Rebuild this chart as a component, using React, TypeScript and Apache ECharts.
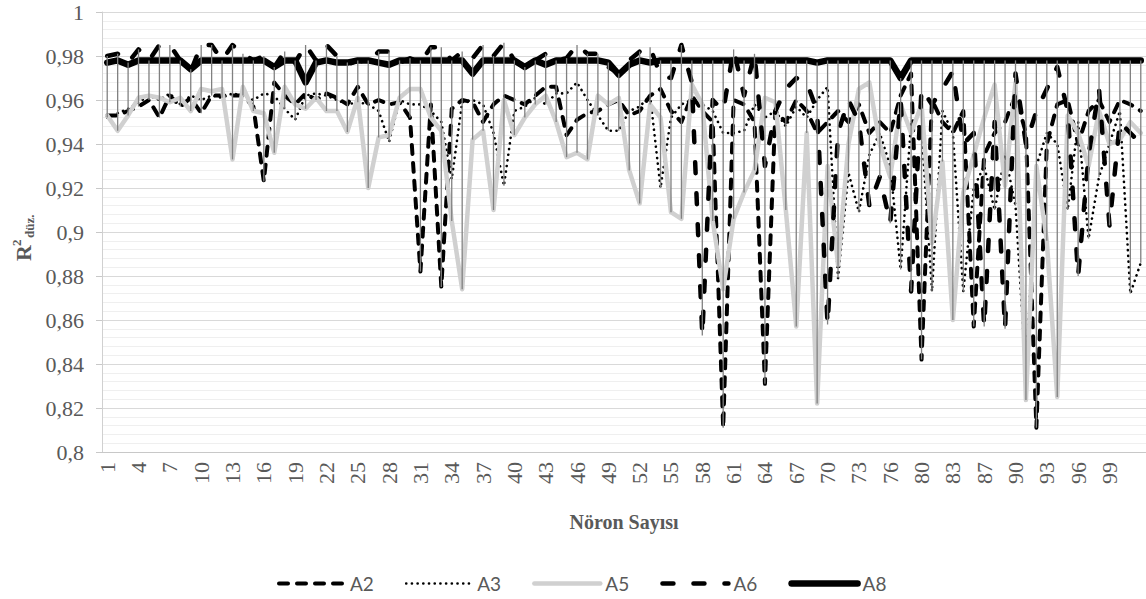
import React, { useEffect, useRef } from 'react';
import * as echarts from 'echarts';

const categories = [
  '1','2','3','4','5','6','7','8','9','10','11','12','13','14','15','16','17','18','19','20',
  '21','22','23','24','25','26','27','28','29','30','31','32','33','34','35','36','37','38','39','40',
  '41','42','43','44','45','46','47','48','49','50','51','52','53','54','55','56','57','58','59','60',
  '61','62','63','64','65','66','67','68','69','70','71','72','73','74','75','76','77','79','80','81',
  '82','83','84','85','87','88','89','90','91','92','93','94','95','96','97','98','99','100','101','102'
];

const seriesA2 = [
  0.953,0.953,0.955,0.957,0.960,0.952,0.962,0.957,0.961,0.954,
  0.962,0.962,0.962,0.962,0.957,0.923,0.968,0.962,0.958,0.963,
  0.960,0.963,0.961,0.958,0.966,0.958,0.960,0.958,0.959,0.952,
  0.882,0.958,0.875,0.956,0.960,0.959,0.950,0.958,0.962,0.960,
  0.958,0.962,0.966,0.966,0.944,0.951,0.954,0.955,0.958,0.960,
  0.953,0.955,0.962,0.965,0.955,0.950,0.962,0.955,0.950,0.811,
  0.960,0.958,0.950,0.831,0.955,0.950,0.960,0.955,0.945,0.950,
  0.955,0.950,0.958,0.945,0.950,0.945,0.962,0.972,0.842,0.960,
  0.950,0.945,0.955,0.857,0.935,0.945,0.950,0.962,0.945,0.811,
  0.940,0.958,0.960,0.940,0.955,0.960,0.950,0.960,0.958,0.955
];

const seriesA3 = [
  0.952,0.954,0.956,0.959,0.962,0.960,0.963,0.958,0.962,0.960,
  0.962,0.961,0.963,0.962,0.960,0.963,0.962,0.956,0.951,0.962,
  0.963,0.962,0.960,0.958,0.959,0.958,0.955,0.941,0.960,0.958,
  0.958,0.955,0.950,0.924,0.959,0.960,0.958,0.945,0.921,0.955,
  0.957,0.961,0.958,0.963,0.963,0.968,0.960,0.953,0.946,0.946,
  0.955,0.957,0.962,0.920,0.952,0.958,0.960,0.958,0.955,0.945,
  0.945,0.946,0.958,0.952,0.955,0.948,0.957,0.952,0.960,0.966,
  0.879,0.927,0.909,0.935,0.945,0.930,0.883,0.950,0.947,0.873,
  0.955,0.945,0.873,0.920,0.930,0.910,0.935,0.912,0.835,0.930,
  0.945,0.940,0.910,0.950,0.897,0.925,0.940,0.955,0.872,0.886
];

const seriesA5 = [
  0.953,0.946,0.953,0.961,0.962,0.961,0.959,0.961,0.955,0.965,
  0.964,0.965,0.933,0.966,0.955,0.954,0.936,0.966,0.958,0.956,
  0.961,0.955,0.955,0.9455,0.961,0.920,0.943,0.944,0.961,0.965,
  0.965,0.952,0.946,0.905,0.874,0.942,0.946,0.910,0.960,0.944,
  0.952,0.958,0.962,0.950,0.934,0.936,0.933,0.962,0.958,0.961,
  0.928,0.913,0.958,0.952,0.909,0.906,0.967,0.958,0.905,0.874,
  0.906,0.918,0.928,0.961,0.959,0.910,0.857,0.945,0.822,0.930,
  0.885,0.940,0.965,0.968,0.940,0.925,0.958,0.945,0.958,0.895,
  0.932,0.860,0.918,0.935,0.952,0.967,0.921,0.968,0.8236,0.930,
  0.896,0.825,0.953,0.945,0.930,0.955,0.940,0.942,0.950,0.945
];

const seriesA6 = [
  0.980,0.981,0.977,0.983,0.978,0.985,0.985,0.978,0.973,0.985,
  0.985,0.978,0.985,0.981,0.978,0.980,0.975,0.982,0.977,0.985,
  0.978,0.985,0.980,0.976,0.978,0.977,0.982,0.982,0.977,0.979,
  0.977,0.984,0.984,0.978,0.982,0.979,0.985,0.980,0.986,0.978,
  0.975,0.978,0.981,0.978,0.979,0.985,0.981,0.981,0.975,0.972,
  0.978,0.982,0.984,0.971,0.970,0.985,0.968,0.853,0.960,0.955,
  0.983,0.962,0.981,0.930,0.955,0.965,0.970,0.968,0.955,0.858,
  0.945,0.960,0.950,0.912,0.925,0.904,0.960,0.873,0.965,0.958,
  0.965,0.973,0.940,0.945,0.857,0.950,0.856,0.972,0.940,0.955,
  0.965,0.975,0.955,0.880,0.935,0.965,0.903,0.950,0.945,0.940
];

const seriesA8 = [
  0.977,0.978,0.976,0.978,0.978,0.978,0.978,0.978,0.974,0.978,
  0.978,0.978,0.978,0.978,0.978,0.978,0.975,0.978,0.978,0.968,
  0.977,0.978,0.977,0.977,0.978,0.978,0.977,0.976,0.978,0.978,
  0.978,0.978,0.978,0.978,0.978,0.972,0.978,0.978,0.978,0.978,
  0.975,0.978,0.976,0.978,0.978,0.978,0.978,0.978,0.977,0.9715,
  0.976,0.978,0.977,0.978,0.978,0.978,0.978,0.978,0.978,0.978,
  0.978,0.978,0.978,0.978,0.978,0.978,0.978,0.978,0.977,0.978,
  0.978,0.978,0.978,0.978,0.978,0.978,0.970,0.978,0.978,0.978,
  0.978,0.978,0.978,0.978,0.978,0.978,0.978,0.978,0.978,0.978,
  0.978,0.978,0.978,0.978,0.978,0.978,0.978,0.978,0.978,0.978
];

const seriesNames = ['A2', 'A3', 'A5', 'A6', 'A8'];
const yMin = 0.8;
const yMax = 1;
const yStep = 0.02;

export default function App() {
  const ref = useRef<HTMLDivElement>(null);

  useEffect(() => {
    const chart = echarts.init(ref.current as HTMLDivElement, null, { renderer: 'svg' });
    const serif = '"Liberation Serif", "Times New Roman", serif';
    const all = [seriesA2, seriesA3, seriesA5, seriesA6, seriesA8];
    const hiLo = categories.map((_, i) => {
      const vals = all.map((s) => s[i]);
      return [i, Math.min(...vals), Math.max(...vals)];
    });

    const lineSeries = (name: string, data: number[], lineStyle: any, z: number) => ({
      type: 'line',
      name,
      data,
      symbol: 'none',
      showSymbol: false,
      silent: true,
      z,
      lineStyle,
      itemStyle: { color: lineStyle.color },
      emphasis: { disabled: true },
    });

    chart.setOption({
      animation: false,
      backgroundColor: '#ffffff',
      grid: { left: 102, top: 12, width: 1050, height: 440, containLabel: false },
      xAxis: {
        type: 'category',
        data: categories,
        boundaryGap: true,
        axisLine: { show: true, lineStyle: { color: '#c8c8c8', width: 1 } },
        axisTick: { show: false },
        axisLabel: {
          interval: (i: number) => i % 3 === 0 && i < 97,
          rotate: 90,
          margin: 10,
          fontFamily: serif,
          fontSize: 22,
          color: '#595959',
        },
        splitLine: { show: false },
      },
      yAxis: {
        type: 'value',
        min: yMin,
        max: yMax,
        interval: yStep,
        axisLine: { show: true, lineStyle: { color: '#d0d0d0', width: 1 } },
        axisTick: { show: true, length: 6, lineStyle: { color: '#c8c8c8' } },
        axisLabel: {
          margin: 18,
          fontFamily: serif,
          fontSize: 22,
          color: '#595959',
          formatter: (v: number) => String(Math.round(v * 100) / 100).replace('.', ','),
        },
        splitLine: { show: true, lineStyle: { color: '#d9d9d9', width: 1 } },
        minorTick: { show: false, splitNumber: 5 },
        minorSplitLine: { show: true, lineStyle: { color: '#efefef', width: 1 } },
      },
      legend: {
        data: seriesNames,
        left: 272,
        top: 569,
        itemWidth: 66,
        itemHeight: 14,
        itemGap: 31,
        selectedMode: false,
        itemStyle: { opacity: 0 },
        lineStyle: { width: 'inherit', cap: 'inherit', type: 'inherit' },
        textStyle: {
          fontFamily: 'Lato, "Open Sans", sans-serif',
          fontSize: 19,
          color: '#595959',
        },
      },
      graphic: [
        {
          type: 'text',
          x: 624,
          y: 522,
          style: {
            text: 'Nöron Sayısı',
            font: `bold 20px ${serif}`,
            fill: '#595959',
            textAlign: 'center',
            textVerticalAlign: 'middle',
          },
        },
        {
          type: 'text',
          x: 23,
          y: 261,
          rotation: Math.PI / 2,
          style: {
            text: 'R',
            font: `bold 22px ${serif}`,
            fill: '#595959',
            textAlign: 'left',
            textVerticalAlign: 'middle',
          },
        },
        {
          type: 'text',
          x: 16,
          y: 246,
          rotation: Math.PI / 2,
          style: {
            text: '2',
            font: `bold 13px ${serif}`,
            fill: '#595959',
            textAlign: 'left',
            textVerticalAlign: 'middle',
          },
        },
        {
          type: 'text',
          x: 29,
          y: 238,
          rotation: Math.PI / 2,
          style: {
            text: 'düz.',
            font: `bold 13px ${serif}`,
            fill: '#595959',
            textAlign: 'left',
            textVerticalAlign: 'middle',
          },
        },
      ],
      series: [
        lineSeries('A2', seriesA2, { color: '#000000', width: 4, type: [9, 9], cap: 'round', join: 'round' }, 2),
        lineSeries('A3', seriesA3, { color: '#000000', width: 2.6, type: [0.1, 5.6], cap: 'round', join: 'round' }, 3),
        lineSeries('A5', seriesA5, { color: '#d0d0d0', width: 4.5, type: 'solid', cap: 'round', join: 'round' }, 4),
        lineSeries('A6', seriesA6, { color: '#000000', width: 4.5, type: [11, 20], cap: 'round', join: 'round' }, 5),
        lineSeries('A8', seriesA8, { color: '#000000', width: 6.5, type: 'solid', cap: 'round', join: 'round' }, 6),
        {
          type: 'custom',
          name: 'hilo',
          data: hiLo,
          silent: true,
          z: 7,
          encode: { x: 0, y: [1, 2] },
          renderItem: (params: any, api: any) => {
            const p1 = api.coord([api.value(0), api.value(1)]);
            const p2 = api.coord([api.value(0), api.value(2)]);
            return {
              type: 'line',
              shape: { x1: p1[0], y1: p1[1], x2: p2[0], y2: p2[1] },
              style: { stroke: '#808080', lineWidth: 1.3 },
            };
          },
        },
      ],
    });

    return () => chart.dispose();
  }, []);

  return (
    <div
      ref={ref}
      style={{ position: 'fixed', left: 0, top: 0, width: 1146, height: 599, background: '#ffffff' }}
    />
  );
}
